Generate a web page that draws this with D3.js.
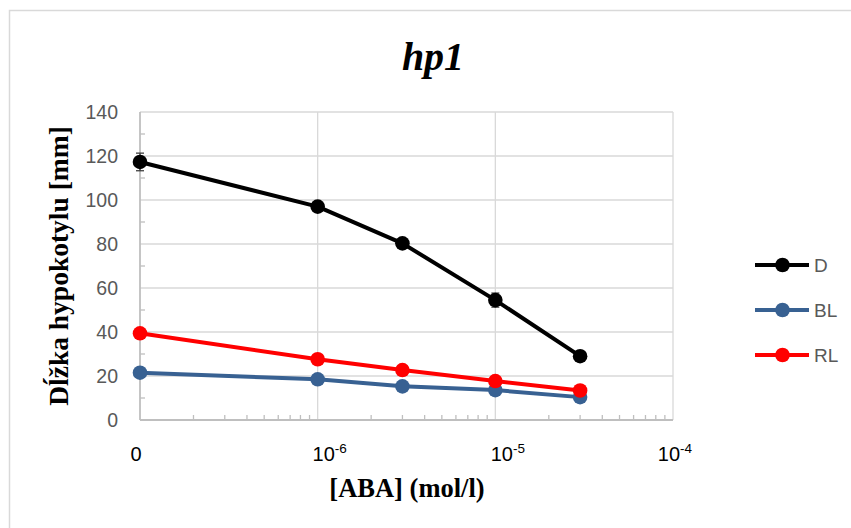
<!DOCTYPE html>
<html>
<head>
<meta charset="utf-8">
<script src="https://cdn.jsdelivr.net/npm/d3@7"></script>
<style>
  html, body { margin: 0; padding: 0; background: #fff; }
  svg { display: block; }
</style>
</head>
<body>
<svg id="chart" width="851" height="528"></svg>
<script>
// ABA concentrations (mol/l); the control (0) sits one decade below 1e-6 on the log axis
const concLabels = ["0", "1e-6", "3e-6", "1e-5", "3e-5"];
const concValues = [1e-7, 1e-6, 3e-6, 1e-5, 3e-5];

// Hypocotyl length (mm) per series
const seriesNames = ["D", "BL", "RL"];
const valuesD  = [117.3, 97.0, 80.3, 54.5, 29.0];
const valuesBL = [21.5, 18.5, 15.3, 13.6, 10.4];
const valuesRL = [39.4, 27.6, 22.7, 17.7, 13.4];
const errorsD  = [4.0, 1.2, 1.2, 3.2, 2.0];
const errorsBL = [0.8, 0.8, 0.8, 0.8, 0.8];
const errorsRL = [0.8, 0.8, 0.8, 0.8, 0.8];

// Axis tick labels
const yTicks = [0, 20, 40, 60, 80, 100, 120, 140];
const xTickValues = [1e-7, 1e-6, 1e-5, 1e-4];
const xTickBase = ["0", "10", "10", "10"];
const xTickExp = ["", "-6", "-5", "-4"];

const colors = { D: "#000000", BL: "#386192", RL: "#ff0000" };
const series = [
  { name: "D",  values: valuesD,  errors: errorsD },
  { name: "BL", values: valuesBL, errors: errorsBL },
  { name: "RL", values: valuesRL, errors: errorsRL }
];

const svg = d3.select("#chart");
const plot = { left: 140, right: 673, top: 112, bottom: 420 };

// chart border
svg.append("rect")
  .attr("x", 9.5).attr("y", 10.5)
  .attr("width", 900).attr("height", 600)
  .attr("fill", "none").attr("stroke", "#d9d9d9").attr("stroke-width", 1.5);

const x = d3.scaleLog().domain([1e-7, 1e-4]).range([plot.left, plot.right]);
const y = d3.scaleLinear().domain([0, 140]).range([plot.bottom, plot.top]);

// horizontal gridlines
svg.append("g").selectAll("line")
  .data(yTicks.filter(v => v > 0))
  .join("line")
  .attr("x1", plot.left).attr("x2", plot.right)
  .attr("y1", d => y(d)).attr("y2", d => y(d))
  .attr("stroke", "#d9d9d9").attr("stroke-width", 1.3);

// vertical gridlines at each decade
svg.append("g").selectAll("line")
  .data(xTickValues.slice(1))
  .join("line")
  .attr("x1", d => x(d)).attr("x2", d => x(d))
  .attr("y1", plot.top).attr("y2", plot.bottom)
  .attr("stroke", "#d9d9d9").attr("stroke-width", 1.3);

// minor ticks on the y axis (odd tens)
svg.append("g").selectAll("line")
  .data(d3.range(10, 140, 20))
  .join("line")
  .attr("x1", plot.left).attr("x2", plot.left + 5)
  .attr("y1", d => y(d)).attr("y2", d => y(d))
  .attr("stroke", "#bfbfbf").attr("stroke-width", 1.3);

// minor log ticks on the x axis
const minorX = [];
[1e-7, 1e-6, 1e-5].forEach(dec => { for (let k = 2; k <= 9; k++) minorX.push(dec * k); });
svg.append("g").selectAll("line")
  .data(minorX)
  .join("line")
  .attr("x1", d => x(d)).attr("x2", d => x(d))
  .attr("y1", plot.bottom).attr("y2", plot.bottom - 5)
  .attr("stroke", "#bfbfbf").attr("stroke-width", 1.3);

// axis lines
svg.append("line")
  .attr("x1", plot.left).attr("x2", plot.left)
  .attr("y1", plot.top).attr("y2", plot.bottom)
  .attr("stroke", "#bfbfbf").attr("stroke-width", 1.8);
svg.append("line")
  .attr("x1", plot.left).attr("x2", plot.right)
  .attr("y1", plot.bottom).attr("y2", plot.bottom)
  .attr("stroke", "#bfbfbf").attr("stroke-width", 1.8);

// y tick labels
svg.append("g").selectAll("text")
  .data(yTicks)
  .join("text")
  .attr("x", plot.left - 22)
  .attr("y", d => y(d))
  .attr("dy", "0.36em")
  .attr("text-anchor", "end")
  .attr("font-family", "Liberation Sans, Arial, sans-serif")
  .attr("font-size", 19.5)
  .attr("fill", "#595959")
  .text(d => d);

// x tick labels with superscript exponents
const xLabelShift = [-4, 12, 12.5, 2];
const xl = svg.append("g").selectAll("text")
  .data(xTickValues)
  .join("text")
  .attr("x", (d, i) => x(d) + xLabelShift[i])
  .attr("y", 461)
  .attr("text-anchor", "middle")
  .attr("font-family", "Liberation Sans, Arial, sans-serif")
  .attr("font-size", 20)
  .attr("fill", "#000");
xl.append("tspan").text((d, i) => xTickBase[i]);
xl.append("tspan")
  .attr("dy", -8)
  .attr("font-size", 13.5)
  .text((d, i) => xTickExp[i]);

// error bars
const errG = svg.append("g");
series.forEach(s => {
  concValues.forEach((c, i) => {
    const cx = x(c);
    const lo = y(s.values[i] - s.errors[i]);
    const hi = y(s.values[i] + s.errors[i]);
    errG.append("line").attr("x1", cx).attr("x2", cx).attr("y1", lo).attr("y2", hi)
      .attr("stroke", "#404040").attr("stroke-width", 1.3);
    [lo, hi].forEach(yy => errG.append("line")
      .attr("x1", cx - 4).attr("x2", cx + 4).attr("y1", yy).attr("y2", yy)
      .attr("stroke", "#404040").attr("stroke-width", 1.3));
  });
});

// series lines and markers
const line = d3.line().x((d, i) => x(concValues[i])).y(d => y(d));
series.forEach(s => {
  svg.append("path")
    .datum(s.values)
    .attr("d", line)
    .attr("fill", "none")
    .attr("stroke", colors[s.name])
    .attr("stroke-width", 4)
    .attr("stroke-linejoin", "round");
  svg.append("g").selectAll("circle")
    .data(s.values)
    .join("circle")
    .attr("cx", (d, i) => x(concValues[i]))
    .attr("cy", d => y(d))
    .attr("r", 7.3)
    .attr("fill", colors[s.name]);
});

// legend
const legend = svg.append("g");
seriesNames.forEach((name, i) => {
  const ly = 265 + i * 45;
  legend.append("line")
    .attr("x1", 755).attr("x2", 809).attr("y1", ly).attr("y2", ly)
    .attr("stroke", colors[name]).attr("stroke-width", 4);
  legend.append("circle")
    .attr("cx", 782.5).attr("cy", ly).attr("r", 7.3).attr("fill", colors[name]);
  legend.append("text")
    .attr("x", 814).attr("y", ly).attr("dy", "0.36em")
    .attr("font-family", "Liberation Sans, Arial, sans-serif")
    .attr("font-size", 19)
    .attr("fill", "#595959")
    .text(name);
});

// title
svg.append("text")
  .attr("x", 433).attr("y", 70)
  .attr("text-anchor", "middle")
  .attr("font-family", "Liberation Serif, Times New Roman, serif")
  .attr("font-weight", "bold").attr("font-style", "italic")
  .attr("font-size", 40)
  .text("hp1");

// axis titles
svg.append("text")
  .attr("x", 407).attr("y", 497)
  .attr("text-anchor", "middle")
  .attr("font-family", "Liberation Serif, Times New Roman, serif")
  .attr("font-weight", "bold")
  .attr("font-size", 26.5)
  .text("[ABA] (mol/l)");

svg.append("text")
  .attr("transform", "translate(68,266) rotate(-90)")
  .attr("text-anchor", "middle")
  .attr("font-family", "Liberation Serif, Times New Roman, serif")
  .attr("font-weight", "bold")
  .attr("font-size", 27.5)
  .text("Dĺžka hypokotylu [mm]");
</script>
</body>
</html>
